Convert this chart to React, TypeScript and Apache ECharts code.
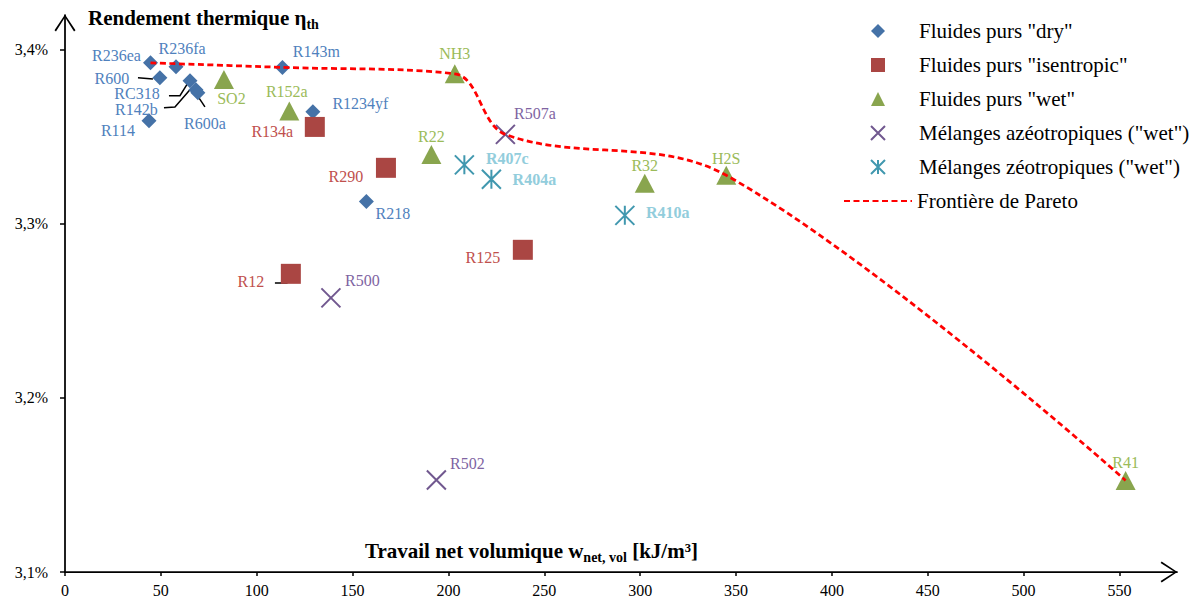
import React, { useEffect, useRef } from "react";
import * as echarts from "echarts";

const FONT = "'Liberation Serif', 'Times New Roman', serif";

// Fluides purs "dry"
const dryNames = ["R236ea", "R236fa", "R600", "RC318", "R142b", "R600a", "R114", "R143m", "R1234yf", "R218"];
const dryW = [44.6, 57.9, 49.5, 65.2, 68.3, 69.3, 43.8, 113.4, 129.3, 157.2];
const dryEta = [3.3925, 3.3902, 3.3839, 3.3822, 3.377, 3.3753, 3.3592, 3.3899, 3.3644, 3.3129];

// Fluides purs "isentropic"
const isenNames = ["R134a", "R290", "R12", "R125"];
const isenW = [130.3, 167.4, 117.8, 238.8];
const isenEta = [3.3557, 3.3322, 3.2713, 3.2851];

// Fluides purs "wet"
const wetNames = ["SO2", "R152a", "NH3", "R22", "R32", "H2S", "R41"];
const wetW = [82.9, 117.0, 203.3, 191.1, 302.4, 344.9, 553.2];
const wetEta = [3.383, 3.3649, 3.3862, 3.3399, 3.3233, 3.3279, 3.1526];

// Mélanges azéotropiques
const azeoNames = ["R507a", "R500", "R502"];
const azeoW = [229.7, 138.7, 193.7];
const azeoEta = [3.3514, 3.2575, 3.1529];

// Mélanges zéotropiques
const zeoNames = ["R407c", "R404a", "R410a"];
const zeoW = [208.3, 222.4, 292.0];
const zeoEta = [3.3339, 3.3256, 3.3049];

// Frontière de Pareto
const paretoW = [44.6, 113.4, 203.3, 229.7, 344.9, 553.2];
const paretoEta = [3.3925, 3.3899, 3.3862, 3.3514, 3.3279, 3.1526];

// Leader lines (data coordinates)
const leaderLines: number[][][] = [
  [[38.06, 3.3839], [45.88, 3.3833]],
  [[54.22, 3.3736], [59.96, 3.3736], [64.13, 3.381]],
  [[51.62, 3.3667], [57.35, 3.3672], [65.17, 3.377]],
  [[72.99, 3.3672], [68.82, 3.3741]],
  [[109.49, 3.2661], [115.75, 3.2661], [117.83, 3.2701]],
];

const xTicks = [0, 50, 100, 150, 200, 250, 300, 350, 400, 450, 500, 550];
const yTicks = [3.1, 3.2, 3.3, 3.4];

const SER_DRY = 'Fluides purs "dry"';
const SER_ISEN = 'Fluides purs "isentropic"';
const SER_WET = 'Fluides purs "wet"';
const SER_AZEO = 'Mélanges azéotropiques ("wet")';
const SER_ZEO = 'Mélanges zéotropiques ("wet")';
const SER_PARETO = "Frontière de Pareto";

// label placement relative to marker (px)
const labelOffsets: Record<string, number[]> = {
  R236ea: [-34, -7], R236fa: [6, -18], R600: [-48, 1], RC318: [-53, 13], R142b: [-59.5, 20],
  R600a: [7, 31], R114: [-31, 10], R143m: [34, -15.5], R1234yf: [47.5, -8.5], R218: [26.5, 12],
  R134a: [-42.5, 5], R290: [-40, 9], R12: [-40, 8], R125: [-40, 8],
  SO2: [7.5, 19], R152a: [-2.5, -19.5], NH3: [0, -20], R22: [0, -18], R32: [0, -17.5], H2S: [0, -17], R41: [0, -18],
  R507a: [29.5, -21], R500: [31.5, -17], R502: [31, -16.5],
  R407c: [43, -6], R404a: [43, 0.5], R410a: [43, -3],
};

const pts = (names: string[], w: number[], eta: number[]) =>
  names.map((n, i) => ({ name: n, value: [w[i], eta[i]], label: { offset: labelOffsets[n] || [0, 0] } }));

const arrowPath = "path://M0,15 L10,0 L20,15 L18.6,16 L10,2.5 L1.4,16 Z";

export default function App() {
  const ref = useRef<HTMLDivElement>(null);
  useEffect(() => {
    if (!ref.current) return;
    const chart = echarts.init(ref.current, null, { renderer: "svg" });
    const lbl = (color: string, bold = false) => ({
      show: true,
      position: "inside",
      formatter: "{b}",
      color,
      fontSize: 16,
      fontWeight: bold ? "bold" : "normal",
      fontFamily: FONT,
    });
    const axisLine = {
      show: true,
      symbol: ["none", arrowPath],
      symbolSize: [21, 17],
      symbolOffset: [0, -8],
      lineStyle: { color: "#000", width: 1.75 },
    };
    const legendText = { fontSize: 21, fontFamily: FONT, color: "#000", lineHeight: 24 };
    chart.setOption({
      animation: false,
      backgroundColor: "#fff",
      textStyle: { fontFamily: FONT },
      grid: { left: 65, right: 23, top: 15, bottom: 34, containLabel: false },
      xAxis: {
        type: "value",
        min: 0,
        max: 580,
        interval: 50,
        splitLine: { show: false },
        axisLine,
        axisTick: { show: true, length: 4, customValues: xTicks, lineStyle: { color: "#000", width: 1.5 } },
        axisLabel: { customValues: xTicks, color: "#000", fontSize: 16, fontFamily: FONT, margin: 10 },
      },
      yAxis: {
        type: "value",
        min: 3.1,
        max: 3.42,
        interval: 0.1,
        splitLine: { show: false },
        axisLine,
        axisTick: { show: true, length: 5, customValues: yTicks, lineStyle: { color: "#000", width: 1.5 } },
        axisLabel: {
          customValues: yTicks,
          color: "#000",
          fontSize: 16,
          fontFamily: FONT,
          margin: 17,
          formatter: (v: number) => v.toFixed(1).replace(".", ",") + "%",
        },
      },
      legend: [
        {
          orient: "vertical",
          left: 865,
          top: 14,
          itemWidth: 14,
          itemHeight: 14,
          itemGap: 10,
          data: [SER_DRY, SER_ISEN, SER_WET, SER_AZEO, SER_ZEO],
          formatter: (name: string) => "{s|}" + name,
          textStyle: { ...legendText, rich: { s: { width: 29, lineHeight: 24 } } },
        },
        {
          orient: "vertical",
          left: 838,
          top: 184,
          itemWidth: 68,
          itemHeight: 14,
          data: [SER_PARETO],
          itemStyle: { color: "transparent", borderWidth: 0 },
          textStyle: legendText,
        },
      ],
      graphic: [
        {
          type: "text",
          x: 88,
          y: 5,
          style: {
            text: "{a|Rendement thermique η}{b|th}",
            rich: {
              a: { fontSize: 21, fontWeight: "bold", fontFamily: FONT, fill: "#000", lineHeight: 26 },
              b: { fontSize: 14, fontWeight: "bold", fontFamily: FONT, fill: "#000", lineHeight: 14, verticalAlign: "bottom" },
            },
          },
        },
        {
          type: "text",
          x: 365,
          y: 538,
          style: {
            text: "{a|Travail net volumique w}{b|net, vol}{a| [kJ/m³]}",
            rich: {
              a: { fontSize: 21, fontWeight: "bold", fontFamily: FONT, fill: "#000", lineHeight: 26 },
              b: { fontSize: 14, fontWeight: "bold", fontFamily: FONT, fill: "#000", lineHeight: 14, verticalAlign: "bottom" },
            },
          },
        },
      ],
      series: [
        {
          type: "lines",
          coordinateSystem: "cartesian2d",
          polyline: true,
          silent: true,
          lineStyle: { color: "#000", width: 1.5, opacity: 1 },
          data: leaderLines.map((c) => ({ coords: c })),
          z: 1,
        },
        {
          name: SER_DRY,
          type: "scatter",
          symbol: "diamond",
          symbolSize: 15,
          itemStyle: { color: "#4572A7", opacity: 1 },
          label: lbl("#4F81BD"),
          data: pts(dryNames, dryW, dryEta),
          z: 2,
        },
        {
          name: SER_ISEN,
          type: "scatter",
          symbol: "rect",
          symbolSize: 20,
          itemStyle: { color: "#AA4643", opacity: 1 },
          label: lbl("#C0504D"),
          data: pts(isenNames, isenW, isenEta),
          z: 3,
        },
        {
          name: SER_WET,
          type: "scatter",
          symbol: "triangle",
          symbolSize: [20, 19],
          itemStyle: { color: "#89A54E", opacity: 1 },
          label: lbl("#9BBB59"),
          data: pts(wetNames, wetW, wetEta),
          z: 4,
        },
        {
          name: SER_AZEO,
          type: "scatter",
          symbol: "path://M0,0L20,20M20,0L0,20",
          symbolSize: 19,
          itemStyle: { color: "#71588F", borderColor: "#71588F", borderWidth: 2, opacity: 1 },
          label: lbl("#8064A2"),
          data: pts(azeoNames, azeoW, azeoEta),
          z: 5,
        },
        {
          name: SER_ZEO,
          type: "scatter",
          symbol: "path://M0,0L20,20M20,0L0,20M10,0L10,20",
          symbolSize: 19,
          itemStyle: { color: "#4198AF", borderColor: "#4198AF", borderWidth: 2, opacity: 1 },
          label: lbl("#92CDDC", true),
          data: pts(zeoNames, zeoW, zeoEta),
          z: 6,
        },
        {
          name: SER_PARETO,
          type: "line",
          smooth: 0.35,
          symbol: "none",
          lineStyle: { color: "#FF0000", width: 2.75, type: [6, 3.5] },
          itemStyle: { color: "#FF0000" },
          data: paretoW.map((w, i) => [w, paretoEta[i]]),
          z: 7,
        },
      ],
    });
    return () => chart.dispose();
  }, []);
  return <div ref={ref} style={{ position: "fixed", left: 0, top: 0, width: 1200, height: 606 }} />;
}
